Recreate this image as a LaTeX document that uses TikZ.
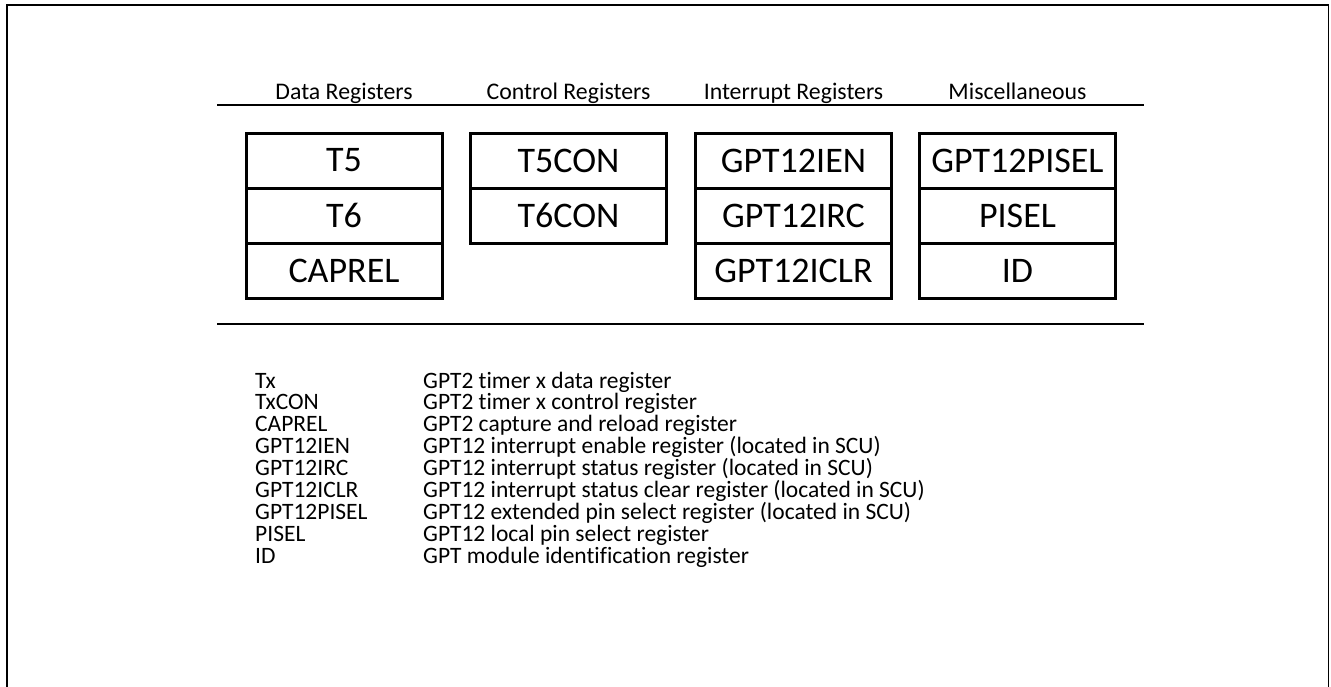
\documentclass[tikz,border=0pt]{standalone}
\usepackage{fontspec}
\setmainfont{Carlito}[Ligatures=NoCommon]
\begin{document}
\begin{tikzpicture}[x=1pt,y=-1pt,
  regbox/.style={draw,line width=3pt,minimum width=196pt,minimum height=55pt,inner sep=0pt,font=\fontsize{36}{39}\selectfont},
  head/.style={anchor=base,font=\fontsize{23.8}{26}\selectfont,inner sep=0pt},
  leg/.style={anchor=base west,font=\fontsize{23.5}{26}\selectfont,inner sep=0pt},
  rule/.style={line width=1.5pt}]
\useasboundingbox (0,0) rectangle (1331,686);
\draw[line width=1.5pt] (7,700) -- (7,5) -- (1328.5,5) -- (1328.5,700);
% header rule and bottom rule
\coordinate (h1) at (217,105); \coordinate (h2) at (1144,105);
\coordinate (b1) at (217,324); \coordinate (b2) at (1144,324);
\draw[rule] (h1) -- (h2);
\draw[rule] (b1) -- (b2);
% headers
\node[head] (hd) at (344,99.5) {Data Registers};
\node[head] (hc) at (568.5,99.5) {Control Registers};
\node[head] (hi) at (793.5,99.5) {Interrupt Registers};
\node[head] (hm) at (1017.5,99.5) {Miscellaneous};
% data registers
\node[regbox] (t5) at (344,160.5) {T5};
\node[regbox] (t6) at (344,215.5) {T6};
\node[regbox] (caprel) at (344,270.5) {CAPREL};
% control
\node[regbox] (t5con) at (568.5,160.5) {T5CON};
\node[regbox] (t6con) at (568.5,215.5) {T6CON};
% interrupt
\node[regbox] (ien) at (793.5,160.5) {GPT12IEN};
\node[regbox] (irc) at (793.5,215.5) {GPT12IRC};
\node[regbox] (iclr) at (793.5,270.5) {GPT12ICLR};
% misc
\node[regbox] (pisel12) at (1017.5,160.5) {GPT12PISEL};
\node[regbox] (pisel) at (1017.5,215.5) {PISEL};
\node[regbox] (id) at (1017.5,270.5) {ID};
% legend
\foreach \n/\a/\b [count=\i from 0] in {
  l1/Tx/GPT2 timer x data register,
  l2/TxCON/GPT2 timer x control register,
  l3/CAPREL/GPT2 capture and reload register,
  l4/GPT12IEN/GPT12 interrupt enable register (located in SCU),
  l5/GPT12IRC/GPT12 interrupt status register (located in SCU),
  l6/GPT12ICLR/GPT12 interrupt status clear register (located in SCU),
  l7/GPT12PISEL/GPT12 extended pin select register (located in SCU),
  l8/PISEL/GPT12 local pin select register,
  l9/ID/GPT module identification register}{
  \node[leg] (\n a) at (255,388+21.9*\i) {\a};
  \node[leg] (\n b) at (423,388+21.9*\i) {\b};
}
\end{tikzpicture}
\end{document}
